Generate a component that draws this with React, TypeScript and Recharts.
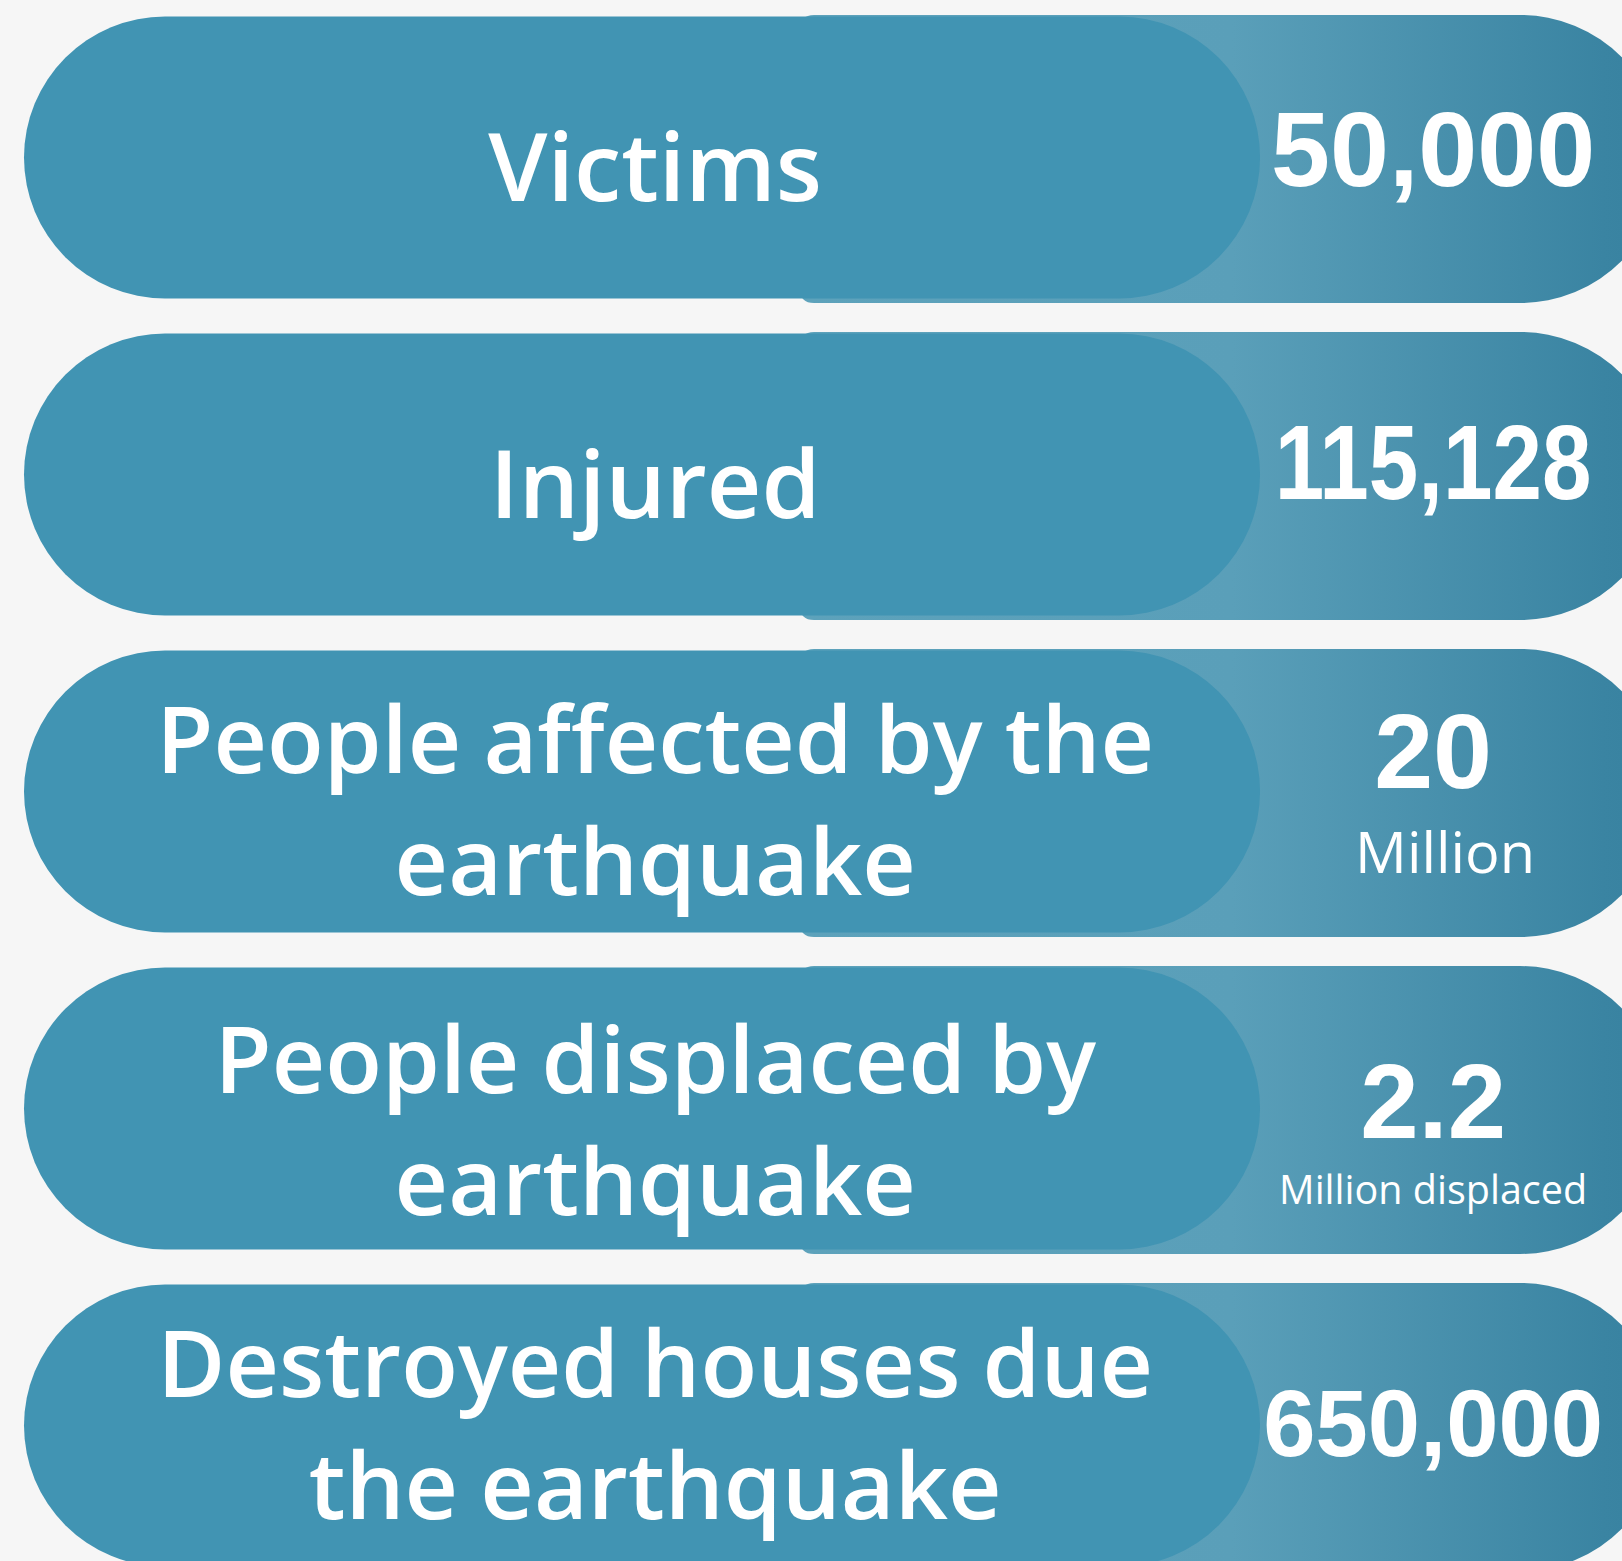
import React from "react";
import { BarChart, Bar, XAxis, YAxis } from "recharts";

// ---- data ----
const categories = [
  "Victims",
  "Injured",
  "People affected by the\nearthquake",
  "People displaced by\nearthquake",
  "Destroyed houses due\nthe earthquake",
];
const valueLabels = ["50,000", "115,128", "20", "2.2", "650,000"];
const unitLabels = ["", "", "Million", "Million displaced", ""];

// ---- styling (per row typography tweaks) ----
const valueFontSize = [106, 106, 106, 105, 94];
const valueDy = [28, 24, -4, 29, 30];
const valueScaleX = [1, 0.84, 1, 1, 1];
const unitFontSize = [0, 0, 56, 41, 0];
const unitDy = [0, 0, 81, 95, 0];
const unitDx = [0, 0, 12, 0, 0];
const unitTextLength = [0, 0, 180, 308, 0];
const labelShift = [0, 0, 0, 3, -10];

const rows = categories.map((c, i) => ({
  label: c,
  value: valueLabels[i],
  unit: unitLabels[i],
  span: 1,
}));

const LABEL_FILL = "#4194b3";

const PillShape = (props: any) => {
  const { x, y, width, height, index, payload } = props;
  const i = index as number;
  const top = y + 1.5;
  const h = height - 6;
  const r = h / 2;
  const left = x;
  const right = x + width * 0.7735;
  const cy = top + h / 2;
  // value pill
  const vx = x + width * 0.4856;
  const vR = height / 2;
  const vcxArc = x + width * 0.9362; // centre of right arc
  const vc = 14;
  const valuePath = `M ${vx + vc} ${y} H ${vcxArc} A ${vR} ${vR} 0 0 1 ${vcxArc} ${y + height} H ${vx + vc} Q ${vx} ${y + height} ${vx} ${y + height - vc} V ${y + vc} Q ${vx} ${y} ${vx + vc} ${y} Z`;
  const labelPath = `M ${left + r} ${top} H ${right - r} A ${r} ${r} 0 0 1 ${right - r} ${top + h} H ${left + r} A ${r} ${r} 0 0 1 ${left + r} ${top} Z`;
  const lines: string[] = String(payload.label).split("\n");
  const lcx = x + width * 0.395;
  const vcx = x + width * 0.8818;
  const labelBaselines =
    lines.length === 1 ? [cy + 43] : [cy - 19 + labelShift[i], cy + 103 + labelShift[i]];
  return (
    <g>
      <path d={valuePath} fill="url(#valueGrad)" />
      <path d={labelPath} fill={LABEL_FILL} />
      {lines.map((ln, k) => (
        <text
          key={k}
          x={lcx}
          y={labelBaselines[k]}
          textAnchor="middle"
          fill="#ffffff"
          fontFamily="'Open Sans', sans-serif"
          fontWeight={600}
          fontSize={lines.length === 1 ? 95 : 93}
          wordSpacing={-2}
        >
          {ln}
        </text>
      ))}
      <g transform={`translate(${vcx} ${cy + valueDy[i]}) scale(${valueScaleX[i]} 1)`}>
        <text
          x={0}
          y={0}
          textAnchor="middle"
          fill="#ffffff"
          fontFamily="'Liberation Sans', Arial, sans-serif"
          fontWeight={700}
          fontSize={valueFontSize[i]}
        >
          {payload.value}
        </text>
      </g>
      {payload.unit ? (
        <text
          x={vcx + unitDx[i]}
          y={cy + unitDy[i]}
          textAnchor="middle"
          fill="#ffffff"
          fontFamily="'Open Sans', sans-serif"
          fontWeight={400}
          fontSize={unitFontSize[i]}
          {...(unitTextLength[i]
            ? { textLength: unitTextLength[i], lengthAdjust: "spacingAndGlyphs" }
            : {})}
        >
          {payload.unit}
        </text>
      ) : null}
    </g>
  );
};

export default function App() {
  return (
    <div
      style={{
        position: "absolute",
        left: 0,
        top: 0,
        width: 1622,
        height: 1561,
        overflow: "hidden",
        background: "#f6f6f6",
      }}
    >
      <BarChart
        width={1622}
        height={1585}
        data={rows}
        layout="vertical"
        margin={{ top: 0, right: 0, left: 24, bottom: 0 }}
        barSize={288}
      >
        <defs>
          <linearGradient id="valueGrad" x1="0" y1="0" x2="1" y2="0">
            <stop offset="0" stopColor="#5da2bb" />
            <stop offset="0.5" stopColor="#5a9fb9" />
            <stop offset="0.93" stopColor="#3a84a2" />
            <stop offset="1" stopColor="#37819f" />
          </linearGradient>
        </defs>
        <XAxis type="number" domain={[0, 1]} hide />
        <YAxis type="category" dataKey="label" hide />
        <Bar dataKey="span" shape={PillShape} isAnimationActive={false} />
      </BarChart>
    </div>
  );
}
